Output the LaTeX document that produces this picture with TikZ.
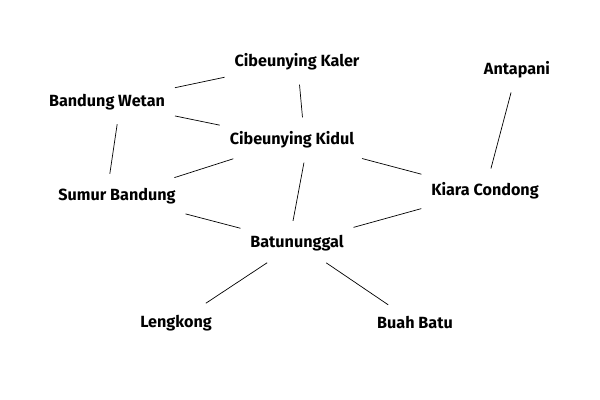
\documentclass[tikz,border=0pt]{standalone}
\usepackage{fontspec}
\setmainfont{Fira Sans}
\usepackage{tikz}
\usetikzlibrary{positioning}

\begin{document}
\begin{tikzpicture}[x=0.025cm,y=-0.025cm,
font=\fontsize{11.5}{13}\selectfont\bfseries,
area/.style={inner xsep=3pt,inner ysep=6pt},
link/.style={draw=black,line width=0.5pt,shorten <=4pt,shorten >=4pt}]
\useasboundingbox (0,0) rectangle (600,400);
\node[area] (kaler) at (297,62) {Cibeunying Kaler};
\node[area] (wetan) at (107,102) {Bandung Wetan};
\node[area] (kidul) at (292,140) {Cibeunying Kidul};
\node[area] (antapani) at (517,70) {Antapani};
\node[area] (sumur) at (117,196) {Sumur Bandung};
\node[area] (kiara) at (485,191) {Kiara Condong};
\node[area] (batu) at (297,243) {Batununggal};
\node[area] (lengkong) at (176,323) {Lengkong};
\node[area] (buah) at (415,323) {Buah Batu};
\draw[link] (wetan)--(kaler);\draw[link] (wetan)--(kidul);
\draw[link] ([xshift=.275cm]wetan.south)--([xshift=-.2cm]sumur.north);
\draw[link] ([xshift=.05cm]kaler.south)--([xshift=.275cm]kidul.north);
\draw[link] (kidul)--(sumur);
\draw[link] ([xshift=.325cm]kidul.south)--([xshift=-.125cm]batu.north);
\draw[link] (kidul)--(kiara);\draw[link] (antapani)--(kiara);\draw[link] (sumur)--(batu);
\draw[link] (kiara)--(batu);\draw[link] (batu)--(lengkong);\draw[link] (batu)--(buah);
\end{tikzpicture}
\end{document}
